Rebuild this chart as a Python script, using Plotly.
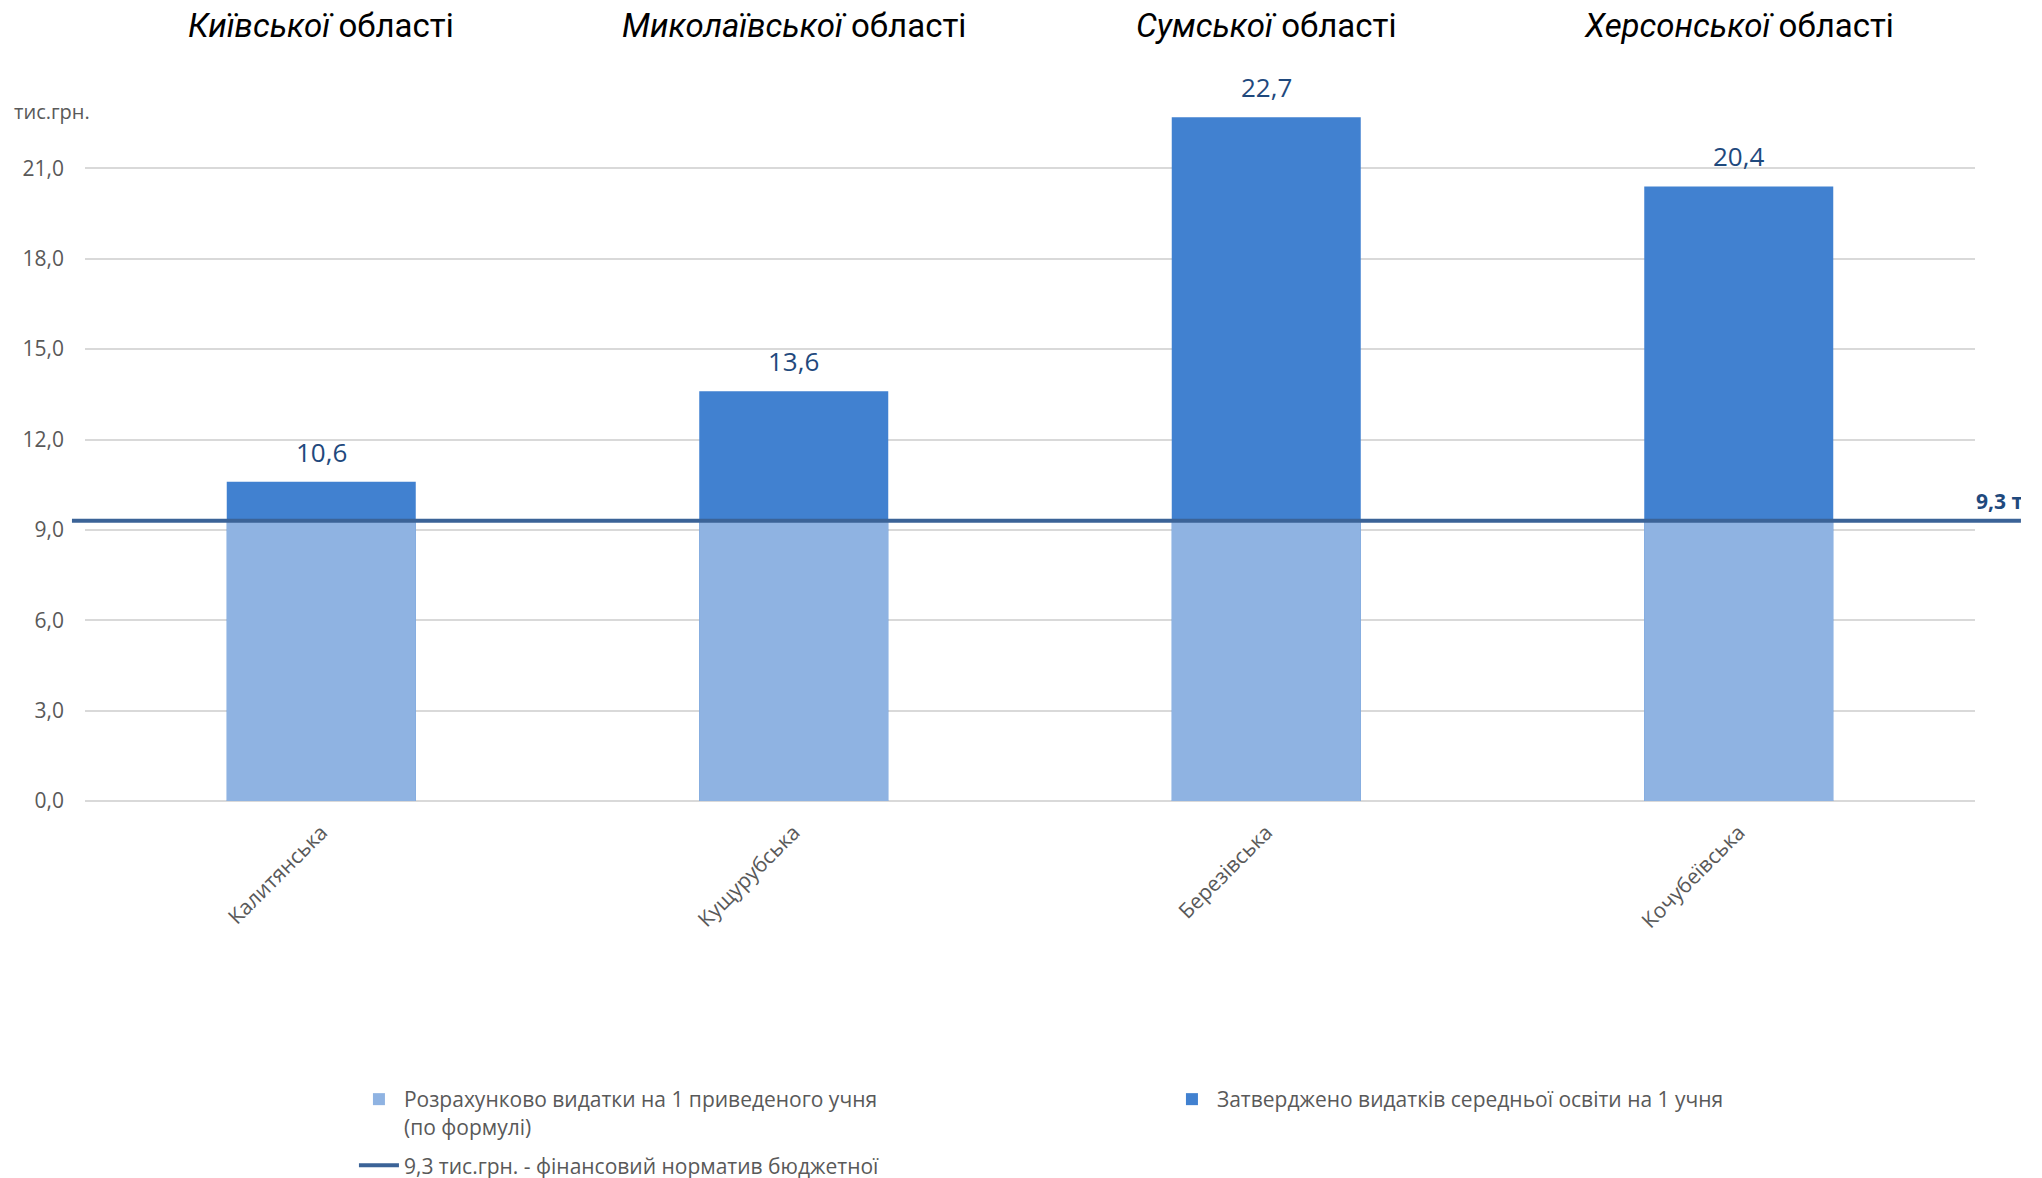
import plotly.graph_objects as go

# ---- data ----
categories = ["Калитянська", "Кущурубська", "Березівська", "Кочубеївська"]
regions = ["Київської", "Миколаївської", "Сумської", "Херсонської"]
approved = [10.6, 13.6, 22.7, 20.4]          # Затверджено видатків середньої освіти на 1 учня
formula = [9.3, 9.3, 9.3, 9.3]               # Розрахунково видатки на 1 приведеного учня
norm_value = 9.3
y_ticks = [0, 3, 6, 9, 12, 15, 18, 21]

name_formula = "Розрахунково видатки на 1 приведеного учня<br>(по формулі)"
name_approved = "Затверджено видатків середньої освіти на 1 учня"
name_norm = "9,3 тис.грн. - фінансовий норматив бюджетної"

C_DARK = "#4181D0"
C_LIGHT = "#8FB3E2"
C_LINE = "#3B6397"
C_LABEL = "#1F497D"
C_GRAY = "#595959"
NARROW = "Liberation Sans Narrow, Arial Narrow, Roboto, sans-serif"
SANS = "Open Sans, Noto Sans, sans-serif"

fig = go.Figure()
fig.add_trace(go.Bar(
    x=categories, y=approved, name=name_approved, width=0.4,
    marker=dict(color=C_DARK, line=dict(width=0)), legendrank=2,
))
fig.add_trace(go.Bar(
    x=categories, y=formula, name=name_formula, width=0.4,
    marker=dict(color=C_LIGHT, line=dict(width=0)), legendrank=1,
))
fig.add_trace(go.Scatter(
    x=[None], y=[None], mode="lines", name=name_norm,
    line=dict(color=C_LINE, width=4), legend="legend2",
))

# norm line across the chart
fig.add_shape(type="line", xref="paper", yref="y",
              x0=-0.0069, x1=1.0243, y0=norm_value, y1=norm_value,
              line=dict(color=C_LINE, width=4), layer="above")

# value labels above bars
for c, v in zip(categories, approved):
    fig.add_annotation(x=c, y=v, xref="x", yref="y", text=f"{v:.1f}".replace(".", ","),
                       showarrow=False, yanchor="bottom", yshift=10,
                       font=dict(family=SANS, size=26, color=C_LABEL))

# region titles
for c, r in zip(categories, regions):
    fig.add_annotation(x=c, y=1, xref="x", yref="paper",
                       text=f"<i>{r}</i> області", showarrow=False,
                       yanchor="middle", yshift=53,
                       font=dict(family=NARROW, size=33, color="#000000"))

# unit label
fig.add_annotation(x=-0.0386, y=0.954, xref="paper", yref="paper", text="тис.грн.",
                   showarrow=False, xanchor="left", yanchor="middle",
                   font=dict(family=SANS, size=20, color=C_GRAY))

# norm value label at right edge (clipped by the chart edge, as in the original)
fig.add_annotation(x=0.9995, y=norm_value, xref="paper", yref="y",
                   text="<b>9,3 тис.грн.</b>", showarrow=False,
                   xanchor="left", yanchor="bottom", yshift=4,
                   font=dict(family=SANS, size=21, color=C_LABEL))

legend_common = dict(orientation="h", xanchor="left", yanchor="top",
                     valign="top", font=dict(family=SANS, size=21, color=C_GRAY),
                     itemwidth=40, bgcolor="rgba(0,0,0,0)")

fig.update_layout(
    width=2021, height=1178,
    margin=dict(l=85, r=46, t=78, b=377, autoexpand=False),
    paper_bgcolor="white", plot_bgcolor="white",
    barmode="overlay",
    separators=", ",
    showlegend=True,
    legend=dict(x=0.1423, y=-0.3845, entrywidth=758, entrywidthmode="pixels",
                **legend_common),
    legend2=dict(x=0.1423, y=-0.476, **legend_common),
    xaxis=dict(tickangle=-45, showgrid=False, showline=False, ticks="",
               tickfont=dict(family=SANS, size=21, color=C_GRAY),
               ticklabelstandoff=14),
    yaxis=dict(range=[0, 24], tickvals=y_ticks, tickformat=".1f",
               showgrid=True, gridcolor="#D9D9D9", gridwidth=2,
               zeroline=True, zerolinecolor="#D9D9D9", zerolinewidth=2,
               showline=False, ticks="",
               tickfont=dict(family=SANS, size=21, color=C_GRAY),
               ticklabelstandoff=20),
)

fig.write_html("out.html", config={"displayModeBar": False},
               post_script="document.body.style.margin='0';document.body.style.overflow='hidden';")
